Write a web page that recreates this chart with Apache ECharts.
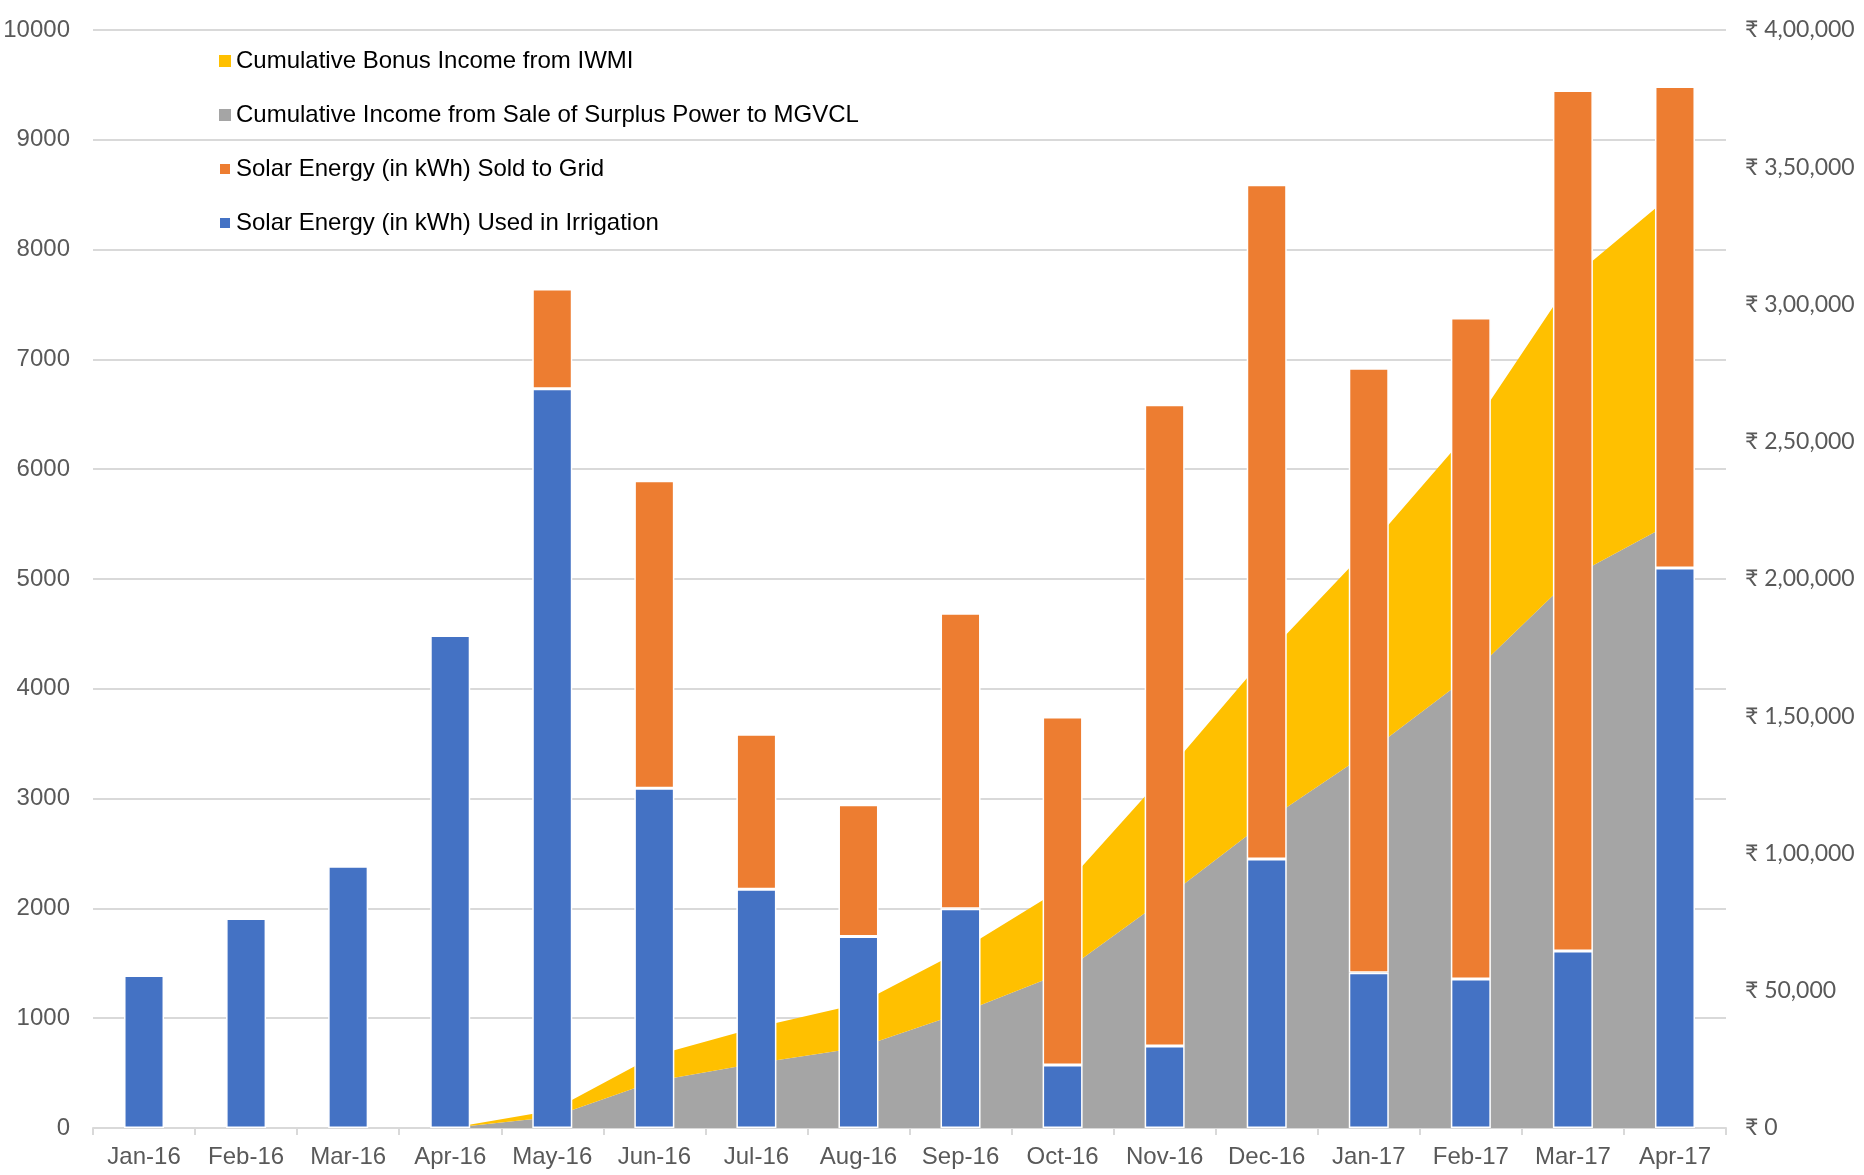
<!DOCTYPE html>
<html>
<head>
<meta charset="utf-8">
<script src="https://cdn.jsdelivr.net/npm/echarts@6/dist/echarts.min.js"></script>
<style>
html,body{margin:0;padding:0;background:#fff;}
#chart{width:1864px;height:1175px;}
</style>
</head>
<body>
<div id="chart"></div>
<script>
// ---- data ----
var categories = ['Jan-16','Feb-16','Mar-16','Apr-16','May-16','Jun-16','Jul-16','Aug-16','Sep-16','Oct-16','Nov-16','Dec-16','Jan-17','Feb-17','Mar-17','Apr-17'];
var usedInIrrigation = [1390,1909,2385,4486,6732,3095,2175,1745,1997,574,747,2450,1415,1358,1613,5100];
var soldToGrid       = [0,0,0,0,910,2800,1410,1200,2690,3170,5840,6140,5505,6020,7835,4385];
var incomeSurplus    = [null,null,null,0,4000,17000,23600,29200,41850,56550,83500,111900,137000,165100,201000,221000];
var bonusIWMI        = [null,null,null,0,2350,9300,13050,16000,22700,30850,45250,60400,74500,89300,108900,120000];
var seriesNames = [
  'Cumulative Bonus Income from IWMI',
  'Cumulative Income from Sale of Surplus Power to MGVCL',
  'Solar Energy (in kWh) Sold to Grid',
  'Solar Energy (in kWh) Used in Irrigation'
];
var leftTicks = {min:0, max:10000, interval:1000};
var rightTicks = {min:0, max:400000, interval:50000};

function indianFormat(v){
  var s = String(Math.round(v));
  if (s.length <= 3) return s;
  var last3 = s.slice(-3), rest = s.slice(0,-3);
  rest = rest.replace(/\B(?=(\d{2})+(?!\d))/g, ',');
  return rest + ',' + last3;
}

var chart = echarts.init(document.getElementById('chart'));
chart.setOption({
  animation:false,
  backgroundColor:'#fff',
  grid:{left:93, right:138, top:30, bottom:47, containLabel:false},
  legend:{
    orient:'vertical', left:213, top:44,
    itemWidth:12, itemHeight:12, itemGap:30,
    icon:'rect',
    textStyle:{fontFamily:'Liberation Sans', fontSize:24, color:'#000', padding:[0,0,0,0]},
    data:seriesNames
  },
  xAxis:{
    type:'category', data:categories, boundaryGap:true,
    axisLine:{lineStyle:{color:'#d9d9d9', width:2}},
    axisTick:{show:true, length:7, lineStyle:{color:'#d9d9d9', width:2}},
    axisLabel:{fontFamily:'Liberation Sans', fontSize:24, color:'#595959', margin:17, interval:0},
    splitLine:{show:false}
  },
  yAxis:[{
    type:'value', min:leftTicks.min, max:leftTicks.max, interval:leftTicks.interval,
    axisLine:{show:false}, axisTick:{show:false},
    axisLabel:{fontFamily:'Liberation Sans', fontSize:24, color:'#595959', margin:23,
      formatter:function(v){return String(v);}},
    splitLine:{lineStyle:{color:'#d9d9d9', width:2}}
  },{
    type:'value', min:rightTicks.min, max:rightTicks.max, interval:rightTicks.interval,
    position:'right',
    axisLine:{show:false}, axisTick:{show:false},
    axisLabel:{fontFamily:'Lato', fontSize:23, color:'#595959', margin:19,
      formatter:function(v){return '\u20B9 ' + indianFormat(v);}},
    splitLine:{show:false}
  }],
  series:[
    {name:seriesNames[1], type:'line', yAxisIndex:1, stack:'income', data:incomeSurplus,
     symbol:'none', showSymbol:false, lineStyle:{width:0}, itemStyle:{color:'#A5A5A5'},
     areaStyle:{color:'#A5A5A5', opacity:1}, z:1},
    {name:seriesNames[0], type:'line', yAxisIndex:1, stack:'income', data:bonusIWMI,
     symbol:'none', showSymbol:false, lineStyle:{width:0}, itemStyle:{color:'#FFC000'},
     areaStyle:{color:'#FFC000', opacity:1}, z:1},
    {name:seriesNames[3], type:'bar', yAxisIndex:0, stack:'energy', data:usedInIrrigation,
     barWidth:40, itemStyle:{color:'#4472C4', borderColor:'#fff', borderWidth:1.5}, z:3},
    {name:seriesNames[2], type:'bar', yAxisIndex:0, stack:'energy', data:soldToGrid,
     barWidth:40, itemStyle:{color:'#ED7D31', borderColor:'#fff', borderWidth:1.5}, z:3}
  ]
});
</script>
</body>
</html>
